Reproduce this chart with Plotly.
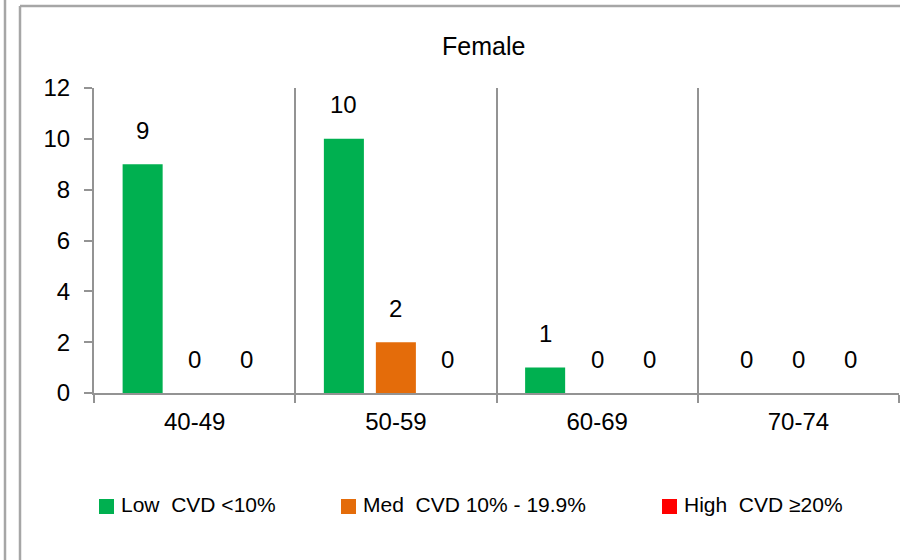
import plotly.graph_objects as go

# Female CVD risk counts by age band
age_groups = ["40-49", "50-59", "60-69", "70-74"]
series_names = ["Low  CVD <10%", "Med  CVD 10% - 19.9%", "High  CVD ≥20%"]
low_cvd = [9, 10, 1, 0]
med_cvd = [0, 2, 0, 0]
high_cvd = [0, 0, 0, 0]
series_values = [low_cvd, med_cvd, high_cvd]
series_colors = ["#00B050", "#E46C0A", "#FF0000"]

W, H = 900, 560
L, R, T, B = 94, 1, 88, 167
PW, PH = W - L - R, H - T - B
BARGAP, BARGROUPGAP = 0.225, 0.23
GRAY = "#939393"
FONT = "Liberation Sans, Arial, sans-serif"


def px(x):
    return (x - L) / PW


def py(y):
    return (H - B - y) / PH


fig = go.Figure()
for name, vals, col in zip(series_names, series_values, series_colors):
    fig.add_trace(go.Bar(x=age_groups, y=vals, name=name, marker_color=col,
                         marker_line_width=0, showlegend=False))

# value labels above each bar, offset to the bar's slot within its group
n = len(series_values)
slot = PW / len(age_groups) * (1 - BARGAP) / n
annotations = []
for i, vals in enumerate(series_values):
    for cat, v in zip(age_groups, vals):
        annotations.append(dict(x=cat, y=v, xref="x", yref="y", text=str(v),
                                showarrow=False, xshift=(i - (n - 1) / 2) * slot,
                                yshift=34, yanchor="middle",
                                font=dict(size=24, color="#000", family=FONT)))

# title
annotations.append(dict(x=px(483), y=py(46), xref="paper", yref="paper", text="Female",
                        showarrow=False, xanchor="center", yanchor="middle",
                        font=dict(size=25, color="#000", family=FONT)))

# legend: coloured squares with their labels
legend_x = [99, 341, 662]
shapes = []
for lx, name, col in zip(legend_x, series_names, series_colors):
    shapes.append(dict(type="rect", xref="paper", yref="paper",
                       x0=px(lx), x1=px(lx + 15), y0=py(514), y1=py(499),
                       fillcolor=col, line=dict(width=0)))
    annotations.append(dict(x=px(lx + 20), y=py(505), xref="paper", yref="paper",
                            text=name.replace("  ", "&nbsp; "), showarrow=False,
                            xanchor="left", yanchor="middle",
                            font=dict(size=21, color="#000", family=FONT)))

# chart frame lines
frame = dict(color="#a6a6a6", width=2.5)
shapes += [
    dict(type="line", xref="paper", yref="paper", x0=px(5), x1=px(5), y0=py(0), y1=py(H), line=frame),
    dict(type="line", xref="paper", yref="paper", x0=px(20), x1=px(20), y0=py(6), y1=py(H), line=frame),
    dict(type="line", xref="paper", yref="paper", x0=px(20), x1=px(W + 5), y0=py(6), y1=py(6), line=frame),
]

fig.update_layout(
    width=W, height=H, margin=dict(l=L, r=R, t=T, b=B),
    paper_bgcolor="white", plot_bgcolor="white",
    barmode="group", bargap=BARGAP, bargroupgap=BARGROUPGAP,
    showlegend=False, annotations=annotations, shapes=shapes,
    font=dict(family=FONT, color="#000"),
    xaxis=dict(type="category", tickson="boundaries", ticks="outside", ticklen=8,
               tickcolor=GRAY, tickwidth=2, showgrid=True, gridcolor=GRAY, gridwidth=2,
               showline=True, linecolor=GRAY, linewidth=2,
               tickfont=dict(size=24, family=FONT, color="#000"), ticklabelstandoff=6),
    yaxis=dict(range=[0, 12], dtick=2, ticks="outside", ticklen=8, tickcolor=GRAY,
               tickwidth=2, showgrid=False, zeroline=False, showline=True,
               linecolor=GRAY, linewidth=2,
               tickfont=dict(size=24, family=FONT, color="#000"), ticklabelstandoff=9),
)

fig.write_html("out.html")
